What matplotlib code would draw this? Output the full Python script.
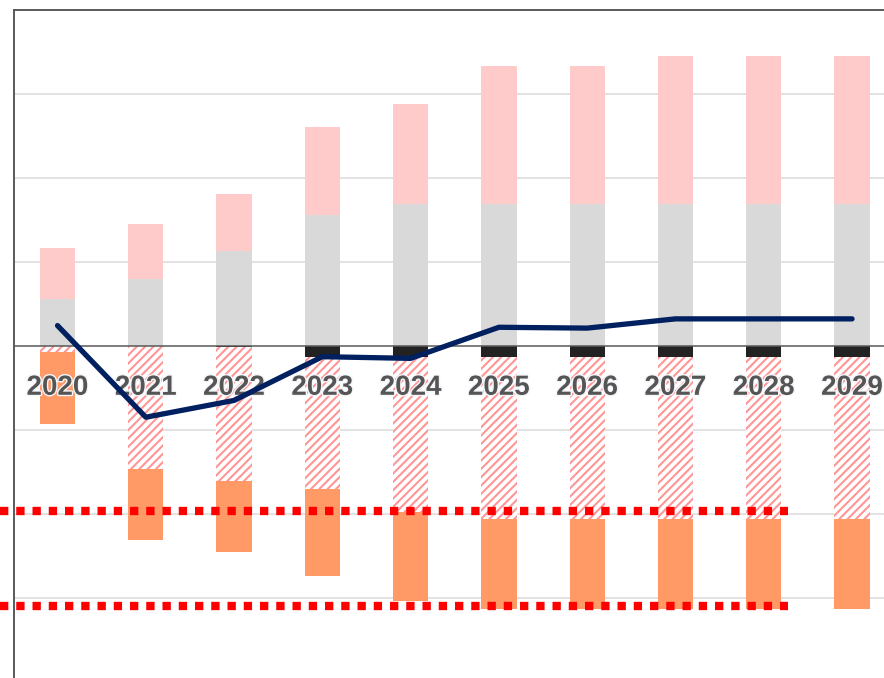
import matplotlib.pyplot as plt
import matplotlib.patheffects as pe

# Dades llegides de la imatge (una unitat = una línia de la graella)
years = ['2020', '2021', '2022', '2023', '2024', '2025', '2026', '2027', '2028', '2029']

gray_vals = [0.56, 0.80, 1.13, 1.56, 1.69, 1.69, 1.69, 1.69, 1.69, 1.69]
pink_vals = [0.60, 0.65, 0.67, 1.04, 1.19, 1.64, 1.64, 1.76, 1.76, 1.76]

black_vals = [0.0, 0.0, 0.02, 0.13, 0.13, 0.13, 0.13, 0.13, 0.13, 0.13]
hatch_vals = [0.08, 1.46, 1.59, 1.57, 1.85, 1.935, 1.935, 1.935, 1.935, 1.935]
orange_vals = [0.855, 0.85, 0.845, 1.044, 1.058, 1.07, 1.07, 1.07, 1.07, 1.07]

line_vals = [0.24, -0.85, -0.65, -0.13, -0.15, 0.22, 0.21, 0.32, 0.32, 0.32]

red_levels = [-1.97, -3.10]

plt.rcParams['hatch.linewidth'] = 1.5

fig = plt.figure(figsize=(8.84, 6.78), dpi=100)
ax = fig.add_axes([14 / 884, 0, 1 - 14 / 884, 1 - 10 / 678])

x = list(range(len(years)))
w = 0.40

# barres positives
ax.bar(x, gray_vals, w, color='#d9d9d9', zorder=2)
ax.bar(x, pink_vals, w, bottom=gray_vals, color='#ffcaca', zorder=2)

# barres negatives
neg_black = [-v for v in black_vals]
ax.bar(x, neg_black, w, color='#222222', zorder=2)
hatch_bottom = neg_black
ax.bar(x, [-v for v in hatch_vals], w, bottom=hatch_bottom, color='white',
       edgecolor='#ff9595', linewidth=0, hatch='////', zorder=2)
orange_bottom = [b - h for b, h in zip(hatch_bottom, hatch_vals)]
ax.bar(x, [-v for v in orange_vals], w, bottom=orange_bottom, color='#ff9966', zorder=2)

ax.axhline(0, color='#595959', lw=1.1, zorder=3)

# etiquetes dels anys dins del gràfic
for xi, yr in zip(x, years):
    ax.text(xi, -0.50, yr, ha='center', va='center', fontsize=20, fontweight='bold',
            family='Liberation Sans', color='#555555', zorder=4,
            path_effects=[pe.withStroke(linewidth=2, foreground='#f4f6fa')])

# línies vermelles puntejades (surten per l'esquerra de l'eix)
x_left = -0.493 - 14 / 88.28
for lvl in red_levels:
    ax.plot([x_left, 8.275], [lvl, lvl], color='#ff0000', lw=6.0,
            linestyle=(0, (1, 0.95)), dash_capstyle='butt', clip_on=False, zorder=5)

ax.plot(x, line_vals, color='#002060', lw=3.8, solid_capstyle='round',
        solid_joinstyle='round', zorder=6)

ax.set_xlim(-0.493, 9.362)
ax.set_ylim(-3.952, 3.994)
ax.set_yticks([-3, -2, -1, 1, 2, 3])
ax.grid(axis='y', color='#dddddd', lw=1.2, zorder=0)
ax.set_axisbelow(True)
ax.set_xticks([])
ax.tick_params(left=False, labelleft=False)

for side in ['right', 'bottom']:
    ax.spines[side].set_visible(False)
for side in ['left', 'top']:
    ax.spines[side].set_color('#595959')
    ax.spines[side].set_linewidth(1.4)

fig.savefig('out.png', dpi=100)
